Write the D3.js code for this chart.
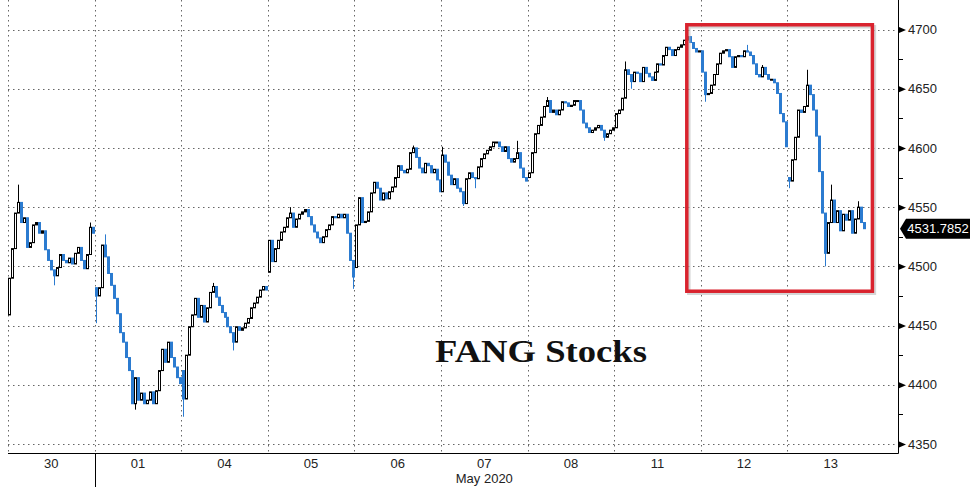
<!DOCTYPE html>
<html>
<head>
<meta charset="utf-8">
<script src="https://cdn.jsdelivr.net/npm/d3@7/dist/d3.min.js"></script>
<style>
  html, body { margin: 0; padding: 0; background: #fff; }
  svg { display: block; }
</style>
</head>
<body>
<svg id="chart" width="977" height="490"></svg>
<script>
// ---------------- DATA ----------------
const days = ["30", "01", "04", "05", "06", "07", "08", "11", "12", "13"];
const monthLabel = "May 2020";
const title = "FANG Stocks";
const lastValue = 4531.7852;
const yMajorTicks = [4350, 4400, 4450, 4500, 4550, 4600, 4650, 4700];
const yMinorTicks = [4375, 4425, 4475, 4525, 4575, 4625, 4675];

// opening price of the first bar of each session
const dayOpens = [4459, 4482, 4412, 4495, 4499, 4563, 4575, 4617, 4682, 4575];

// bar closes for each session (each bar opens at the previous close)
const closesApr30 = [4490, 4515, 4545, 4554, 4537, 4541, 4516, 4520, 4535, 4537, 4528, 4530, 4514, 4505, 4497, 4492, 4499, 4510, 4505, 4503, 4507, 4502, 4511, 4516, 4505, 4498, 4510, 4533, 4528];
const closesMay01 = [4475, 4482, 4518, 4508, 4494, 4484, 4473, 4460, 4444, 4436, 4423, 4412, 4384, 4406, 4387, 4393, 4384, 4387, 4394, 4384, 4395, 4412, 4430, 4419, 4436, 4423, 4415, 4406, 4401];
const closesMay04 = [4388, 4425, 4449, 4459, 4473, 4457, 4467, 4453, 4465, 4478, 4483, 4474, 4467, 4461, 4457, 4449, 4444, 4436, 4449, 4446, 4448, 4452, 4456, 4465, 4469, 4474, 4480, 4483, 4480];
const closesMay05 = [4522, 4504, 4515, 4522, 4529, 4533, 4541, 4545, 4533, 4540, 4544, 4546, 4548, 4542, 4535, 4529, 4524, 4520, 4525, 4531, 4535, 4542, 4541, 4544, 4541, 4544, 4528, 4505, 4491];
const closesMay06 = [4535, 4558, 4537, 4538, 4546, 4562, 4571, 4566, 4556, 4562, 4557, 4563, 4567, 4575, 4585, 4581, 4579, 4582, 4596, 4600, 4592, 4583, 4579, 4587, 4585, 4579, 4582, 4573, 4563];
const closesMay07 = [4594, 4588, 4577, 4569, 4574, 4566, 4563, 4553, 4574, 4579, 4575, 4574, 4584, 4591, 4595, 4598, 4601, 4605, 4605, 4601, 4597, 4601, 4591, 4588, 4591, 4596, 4583, 4575, 4572];
const closesMay08 = [4579, 4596, 4612, 4619, 4626, 4635, 4640, 4630, 4632, 4628, 4632, 4639, 4638, 4635, 4636, 4640, 4640, 4632, 4621, 4617, 4613, 4615, 4617, 4619, 4615, 4609, 4612, 4615, 4617];
const closesMay11 = [4629, 4632, 4642, 4666, 4662, 4656, 4664, 4663, 4656, 4668, 4663, 4660, 4657, 4664, 4671, 4670, 4678, 4685, 4683, 4678, 4683, 4685, 4687, 4691, 4694, 4689, 4684, 4681, 4682];
const closesMay12 = [4664, 4645, 4646, 4653, 4662, 4671, 4680, 4682, 4683, 4677, 4668, 4677, 4678, 4677, 4682, 4681, 4678, 4671, 4662, 4660, 4668, 4662, 4658, 4658, 4655, 4646, 4629, 4622, 4601];
const closesMay13 = [4572, 4590, 4609, 4632, 4630, 4635, 4653, 4645, 4632, 4610, 4580, 4545, 4511, 4537, 4556, 4537, 4547, 4530, 4544, 4539, 4547, 4528, 4540, 4550, 4537, 4531.7852];

// notable wick extremes: [session index, bar index, high, low]
const wickExtremes = [
  [0, 3, 4569, null], [0, 15, null, 4484], [0, 27, 4537, null],
  [1, 0, null, 4452], [1, 3, 4527, null], [1, 13, null, 4379],
  [2, 0, null, 4373], [2, 10, 4486, null], [2, 17, null, 4429],
  [3, 7, 4550, null], [3, 28, null, 4481],
  [4, 19, 4602, null],
  [5, 0, 4601, null], [5, 7, null, 4551], [5, 11, null, 4566], [5, 25, 4606, null],
  [6, 6, 4643, null], [6, 25, null, 4606],
  [7, 3, 4673, null], [7, 5, null, 4650], [7, 24, 4696, null],
  [8, 1, null, 4639], [8, 15, 4687, null], [8, 20, 4670, null],
  [9, 0, null, 4566], [9, 6, 4666, null], [9, 12, null, 4500], [9, 14, 4569, null], [9, 23, 4555, null]
];

const barsPerSession = 29;

// ---------------- BUILD ----------------
const dayCloses = [closesApr30, closesMay01, closesMay04, closesMay05, closesMay06,
                   closesMay07, closesMay08, closesMay11, closesMay12, closesMay13];

const bars = [];
dayCloses.forEach((cl, d) => {
  let prev = dayOpens[d];
  cl.forEach((c, i) => {
    bars.push({ day: days[d], d, i, o: prev, c, h: Math.max(prev, c), l: Math.min(prev, c) });
    prev = c;
  });
});
wickExtremes.forEach(([d, i, h, l]) => {
  const b = bars.find(b => b.d === d && b.i === i);
  if (!b) return;
  if (h != null) b.h = Math.max(b.h, h);
  if (l != null) b.l = Math.min(b.l, l);
});

// ---------------- DRAW ----------------
const svg = d3.select("#chart");
const plotLeft = 8, plotRight = 898, plotTop = 0, plotBottom = 453;

const x = d3.scaleBand().domain(days).range([8, 874]).padding(0);
const slot = d3.scaleBand().domain(d3.range(barsPerSession)).range([0, x.bandwidth()]).padding(0);
const y = d3.scaleLinear().domain([4350, 4700]).range([444, 29.5]);

const gridColor = "#666";
// horizontal gridlines
svg.append("g").selectAll("line").data(yMajorTicks).join("line")
  .attr("x1", plotLeft).attr("x2", plotRight)
  .attr("y1", d => Math.round(y(d)) + 0.5).attr("y2", d => Math.round(y(d)) + 0.5)
  .attr("stroke", gridColor).attr("stroke-width", 1).attr("stroke-dasharray", "1.5,3.5");

// vertical gridlines at session boundaries
svg.append("g").selectAll("line").data(days).join("line")
  .attr("x1", d => Math.round(x(d)) + 0.5).attr("x2", d => Math.round(x(d)) + 0.5)
  .attr("y1", plotTop).attr("y2", plotBottom)
  .attr("stroke", gridColor).attr("stroke-width", 1).attr("stroke-dasharray", "1.5,3.5");

// candles
const upColor = "#000", downColor = "#2b7bd0";
const bx = b => Math.round(x(b.day) + slot(b.i) + slot.bandwidth() / 2);
const cg = svg.append("g");
cg.selectAll("line").data(bars).join("line")
  .attr("x1", b => bx(b) + 0.5).attr("x2", b => bx(b) + 0.5)
  .attr("y1", b => y(b.h)).attr("y2", b => y(b.l))
  .attr("stroke", b => b.c >= b.o ? upColor : downColor).attr("stroke-width", 1);
cg.selectAll("rect").data(bars).join("rect")
  .attr("x", b => bx(b) - 0.5)
  .attr("width", 2)
  .attr("y", b => y(Math.max(b.o, b.c)))
  .attr("height", b => Math.max(1, Math.abs(y(b.o) - y(b.c))))
  .attr("fill", b => b.c >= b.o ? "#fff" : downColor)
  .attr("stroke", b => b.c >= b.o ? upColor : downColor)
  .attr("stroke-width", 1);

// axis lines
svg.append("line").attr("x1", plotLeft).attr("x2", plotRight + 0.5)
  .attr("y1", plotBottom + 0.5).attr("y2", plotBottom + 0.5).attr("stroke", "#000");
svg.append("line").attr("x1", plotRight + 0.5).attr("x2", plotRight + 0.5)
  .attr("y1", plotTop).attr("y2", plotBottom + 0.5).attr("stroke", "#000");
// month separator below axis
svg.append("line").attr("x1", Math.round(x("01")) + 0.5).attr("x2", Math.round(x("01")) + 0.5)
  .attr("y1", plotBottom).attr("y2", 487).attr("stroke", "#000");

// x axis labels
const xAxis = svg.append("g").attr("transform", `translate(0,${plotBottom})`)
  .call(d3.axisBottom(x).tickSize(0).tickPadding(6));
xAxis.select(".domain").remove();
xAxis.selectAll("text").attr("font-family", "Liberation Sans, Arial, sans-serif")
  .attr("font-size", 13).attr("fill", "#222");
svg.append("text").attr("x", x("07") + x.bandwidth() / 2).attr("y", 483)
  .attr("text-anchor", "middle").attr("font-family", "Liberation Sans, Arial, sans-serif")
  .attr("font-size", 13).attr("fill", "#222").text(monthLabel);

// y axis
const yAxis = svg.append("g").attr("transform", `translate(${plotRight},0)`)
  .call(d3.axisRight(y).tickValues(yMajorTicks).tickSize(0).tickPadding(10).tickFormat(d3.format("d")));
yAxis.select(".domain").remove();
yAxis.selectAll("text").attr("font-family", "Liberation Sans, Arial, sans-serif")
  .attr("font-size", 13).attr("fill", "#222");
yAxis.selectAll(".tick").append("path").attr("d", "M1,-3L8,0L1,3Z").attr("fill", "#000");
svg.append("g").selectAll("line").data(yMinorTicks).join("line")
  .attr("x1", plotRight).attr("x2", plotRight + 5)
  .attr("y1", d => Math.round(y(d)) + 0.5).attr("y2", d => Math.round(y(d)) + 0.5)
  .attr("stroke", "#000");

// last value tag
const ly = y(lastValue);
svg.append("path")
  .attr("d", `M${plotRight + 2},${ly} L${plotRight + 8},${ly - 10} L${plotRight + 72},${ly - 10} L${plotRight + 72},${ly + 10} L${plotRight + 8},${ly + 10} Z`)
  .attr("fill", "#000");
svg.append("text").attr("x", plotRight + 40).attr("y", ly).attr("dy", "0.36em")
  .attr("text-anchor", "middle").attr("font-family", "Liberation Sans, Arial, sans-serif")
  .attr("font-size", 13).attr("fill", "#fff").text(lastValue.toFixed(4));

// highlight box
const boxX0 = x("12") - 14, boxX1 = x("13") + 85;
const boxY0 = y(4704), boxY1 = y(4479);
svg.append("rect").attr("x", boxX0 + 2).attr("y", boxY0 + 2)
  .attr("width", boxX1 - boxX0).attr("height", boxY1 - boxY0)
  .attr("fill", "none").attr("stroke", "#bbb").attr("stroke-width", 3.5).attr("opacity", 0.6);
svg.append("rect").attr("x", boxX0).attr("y", boxY0)
  .attr("width", boxX1 - boxX0).attr("height", boxY1 - boxY0)
  .attr("fill", "none").attr("stroke", "#d9232e").attr("stroke-width", 3.5);

// title
svg.append("text").attr("x", 435).attr("y", 362)
  .attr("font-family", "Liberation Serif, Times New Roman, serif").attr("font-weight", "bold")
  .attr("font-size", 31).attr("fill", "#111")
  .attr("textLength", 212).attr("lengthAdjust", "spacingAndGlyphs")
  .text(title);
</script>
</body>
</html>
